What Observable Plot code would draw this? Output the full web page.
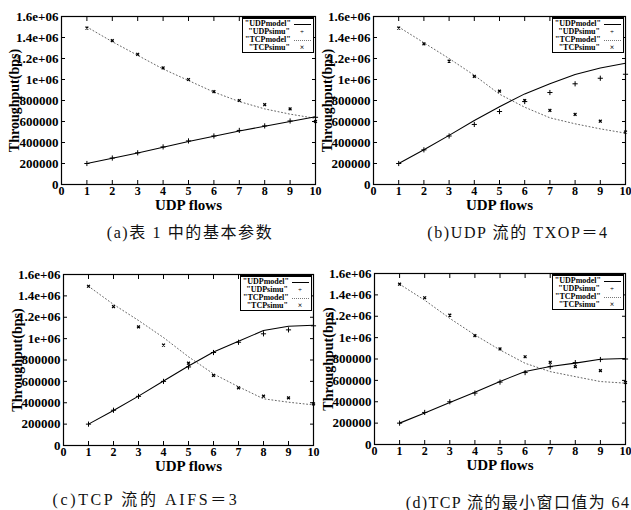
<!DOCTYPE html>
<html>
<head>
<meta charset="utf-8">
<script src="https://cdn.jsdelivr.net/npm/d3@7"></script>
<script src="https://cdn.jsdelivr.net/npm/@observablehq/plot@0.6"></script>
<style>
  html, body { margin: 0; padding: 0; background: #fff; }
  #root { position: relative; width: 631px; height: 510px; overflow: hidden; background: #fff; }
  .panel { position: absolute; }
  .caption { position: absolute; font-family: "Liberation Serif", "Noto Sans CJK SC", serif; font-size: 16px; color: #111; white-space: nowrap; transform: translate(-50%, -50%); }
  .legend { position: absolute; border: 1.2px solid #000; border-top-width: 2px; background: #fff; font-family: "Liberation Serif", serif; font-size: 8px; line-height: 8px; color: #000; padding: 1px 2px; box-sizing: border-box; }
  .legend .row { display: flex; align-items: center; justify-content: flex-end; height: 8px; }
  .legend .lab { text-align: right; font-weight: bold; }
  .legend .smp { width: 18px; margin-left: 3px; display: flex; align-items: center; justify-content: center; }
</style>
</head>
<body>
<div id="root"></div>
<script>
// ---------------- data ----------------
const flows = [1, 2, 3, 4, 5, 6, 7, 8, 9, 10];
const xTicks = [0, 1, 2, 3, 4, 5, 6, 7, 8, 9, 10];
const yTicks = [0, 200000, 400000, 600000, 800000, 1000000, 1200000, 1400000, 1600000];
const seriesNames = ["\"UDPmodel\"", "\"UDPsimu\"", "\"TCPmodel\"", "\"TCPsimu\""];
const captions = ["(a)表 1 中的基本参数", "(b)UDP 流的 TXOP＝4", "(c)TCP 流的 AIFS＝3", "(d)TCP 流的最小窗口值为 64"];
const xLabel = "UDP flows";
const yLabel = "Throughput(bps)";

// (a) basic parameters
const aUdpModel = [200000, 250000, 300000, 355000, 410000, 460000, 510000, 555000, 600000, 645000];
const aUdpSimu  = [200000, 252000, 302000, 358000, 415000, 462000, 515000, 558000, 605000, 640000];
const aTcpModel = [1500000, 1360000, 1230000, 1100000, 990000, 880000, 790000, 720000, 670000, 630000];
const aTcpSimu  = [1490000, 1370000, 1240000, 1110000, 1000000, 885000, 800000, 760000, 720000, 600000];
// (b) UDP TXOP=4
const bUdpModel = [200000, 330000, 468000, 610000, 740000, 863000, 960000, 1048000, 1110000, 1155000];
const bUdpSimu  = [200000, 330000, 462000, 572000, 695000, 790000, 876000, 959000, 1012000, 1050000];
const bTcpModel = [1500000, 1350000, 1200000, 1040000, 860000, 736000, 635000, 578000, 530000, 489000];
const bTcpSimu  = [1490000, 1340000, 1175000, 1030000, 889000, 800000, 705000, 667000, 603000, 500000];
// (c) TCP AIFS=3
const cUdpModel = [200000, 328000, 462000, 603000, 744000, 875000, 975000, 1076000, 1116000, 1125000];
const cUdpSimu  = [200000, 330000, 460000, 600000, 735000, 870000, 966000, 1045000, 1082000, 1120000];
const cTcpModel = [1490000, 1320000, 1170000, 1010000, 830000, 670000, 550000, 437000, 405000, 380000];
const cTcpSimu  = [1490000, 1300000, 1110000, 940000, 770000, 656000, 540000, 461000, 446000, 390000];
// (d) TCP min window 64
const dUdpModel = [200000, 295000, 394000, 488000, 590000, 683000, 730000, 761000, 798000, 805000];
const dUdpSimu  = [200000, 300000, 400000, 481000, 584000, 673000, 728000, 766000, 795000, 800000];
const dTcpModel = [1500000, 1350000, 1180000, 1025000, 885000, 760000, 682000, 635000, 589000, 574000];
const dTcpSimu  = [1500000, 1373000, 1211000, 1019000, 894000, 821000, 769000, 729000, 691000, 580000];

const panels = [
  {left: 0,   top: 0,   w: 315, h: 215, ml: 61, mr: 0, mt: 16, mb: 31, ydx: -47, um: aUdpModel, us: aUdpSimu, tm: aTcpModel, ts: aTcpSimu, cap: captions[0], cx: 190, cy: 231, ls: 1.6},
  {left: 315, top: 0,   w: 316, h: 215, ml: 58, mr: 6, mt: 16, mb: 31, ydx: -46, um: bUdpModel, us: bUdpSimu, tm: bTcpModel, ts: bTcpSimu, cap: captions[1], cx: 518, cy: 231, ls: 1.6},
  {left: 0,   top: 258, w: 315, h: 218, ml: 63, mr: 2, mt: 16, mb: 31, ydx: -46, um: cUdpModel, us: cUdpSimu, tm: cTcpModel, ts: cTcpSimu, cap: captions[2], cx: 146, cy: 498, ls: 2.6},
  {left: 315, top: 258, w: 316, h: 218, ml: 59, mr: 6, mt: 15, mb: 32, ydx: -46, um: dUdpModel, us: dUdpSimu, tm: dTcpModel, ts: dTcpSimu, cap: captions[3], cx: 518, cy: 501, ls: 1.4}
];

const yFmt = d => d >= 1000000 ? (d / 1000000) + "e+06" : String(d);
const root = document.getElementById("root");
const FONT = "Liberation Serif, DejaVu Serif, serif";

panels.forEach(p => {
  const data = flows.map((f, i) => ({f, um: p.um[i], us: p.us[i], tm: p.tm[i], ts: p.ts[i]}));
  const chart = Plot.plot({
    width: p.w, height: p.h,
    marginLeft: p.ml, marginRight: p.mr, marginTop: p.mt, marginBottom: p.mb,
    style: {fontFamily: FONT, background: "transparent", color: "#000", overflow: "visible"},
    x: {domain: [0, 10]},
    y: {domain: [0, 1600000]},
    marks: [
      Plot.line(data, {x: "f", y: "tm", stroke: "#666", strokeWidth: 1, strokeDasharray: "1,2.5"}),
      Plot.line(data, {x: "f", y: "um", stroke: "#000", strokeWidth: 1.1}),
      Plot.dot(data, {x: "f", y: "us", symbol: "plus", r: 1.8, stroke: "#000", strokeWidth: 1}),
      Plot.dot(data, {x: "f", y: "ts", symbol: "times", r: 1.4, stroke: "#000", strokeWidth: 1.3}),
      Plot.frame({stroke: "#000", strokeWidth: 1.2}),
      Plot.axisX({anchor: "bottom", ticks: xTicks, tickSize: -4, tickPadding: 6, label: null, fontSize: 12, fontWeight: "bold", tickFormat: d => String(d)}),
      Plot.axisX({anchor: "top", ticks: xTicks, tickSize: -4, label: null, tickFormat: () => ""}),
      Plot.axisY({anchor: "left", ticks: yTicks, tickSize: -4, tickPadding: 7, label: null, fontSize: 13, fontWeight: "bold", tickFormat: yFmt}),
      Plot.axisY({anchor: "right", ticks: yTicks, tickSize: -4, label: null, tickFormat: () => ""}),
      Plot.text([xLabel], {text: d => d, frameAnchor: "bottom", lineAnchor: "middle", dy: 21, fontSize: 15, fontWeight: "bold", fill: "#000"}),
      Plot.text([yLabel], {text: d => d, frameAnchor: "left", textAnchor: "middle", lineAnchor: "middle", dx: p.ydx, rotate: -90, fontSize: 14, fontWeight: "bold", fill: "#000"})
    ]
  });
  chart.classList.add("panel");
  chart.style.left = p.left + "px";
  chart.style.top = p.top + "px";
  root.appendChild(chart);

  // legend box (top-right inside plot area)
  const lg = document.createElement("div");
  lg.className = "legend";
  const plotRight = p.left + p.w - p.mr;
  const plotTop = p.top + p.mt;
  lg.style.left = (plotRight - 73) + "px";
  lg.style.top = (plotTop + 1) + "px";
  lg.style.width = "72px";
  lg.style.height = "36px";
  const samples = [
    '<div style="width:17px;border-top:1px solid #000"></div>',
    '<span style="font-size:7px">+</span>',
    '<div style="width:17px;border-top:1px dotted #777"></div>',
    '<span style="font-size:8px;font-weight:bold">×</span>'
  ];
  lg.innerHTML = seriesNames.map((n, i) =>
    `<div class="row"><span class="lab">${n}</span><span class="smp">${samples[i]}</span></div>`).join("");
  root.appendChild(lg);

  const cap = document.createElement("div");
  cap.className = "caption";
  cap.textContent = p.cap;
  cap.style.left = p.cx + "px";
  cap.style.top = p.cy + "px";
  cap.style.letterSpacing = p.ls + "px";
  root.appendChild(cap);
});
</script>
</body>
</html>
